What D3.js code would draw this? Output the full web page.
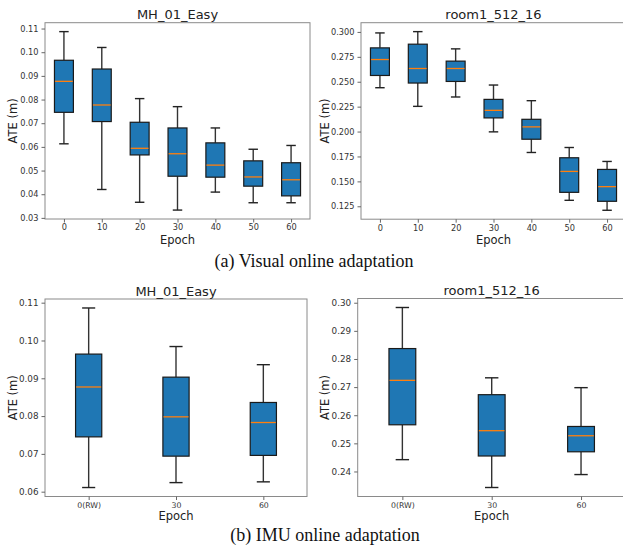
<!DOCTYPE html>
<meta charset="utf-8">
<style>
body { margin: 0; background: #fff; }
svg { display: block; }
.tick text { font-family: "DejaVu Sans", sans-serif; fill: #333; }
.tick line { stroke: #666; }
.title { font-family: "DejaVu Sans", sans-serif; font-size: 13px; fill: #222; }
.label { font-family: "DejaVu Sans", sans-serif; font-size: 11.5px; fill: #222; }
.caption { font-family: "Liberation Serif", "Times New Roman", serif; font-size: 18px; fill: #111; }
</style>
<body>
<script src="https://d3js.org/d3.v7.min.js"></script>
<script>
var width = 623,
    height = 548;

// epochs on x
let visualEpochs = ["0", "10", "20", "30", "40", "50", "60"]
let imuEpochs = ["0(RW)", "30", "60"]

// [low whisker, q1, median, q3, high whisker]
let mhVisual = [
  [0.0613, 0.0746, 0.0877, 0.0966, 0.1087],
  [0.0420, 0.0707, 0.0777, 0.0929, 0.1020],
  [0.0366, 0.0566, 0.0594, 0.0704, 0.0804],
  [0.0333, 0.0476, 0.0571, 0.0680, 0.0770],
  [0.0409, 0.0472, 0.0523, 0.0617, 0.0680],
  [0.0364, 0.0434, 0.0473, 0.0541, 0.0590],
  [0.0364, 0.0393, 0.0461, 0.0533, 0.0606]
]
let roomVisual = [
  [0.2440, 0.2563, 0.2723, 0.2840, 0.2990],
  [0.2253, 0.2487, 0.2633, 0.2877, 0.3003],
  [0.2347, 0.2503, 0.2633, 0.2707, 0.2830],
  [0.1997, 0.2137, 0.2213, 0.2323, 0.2467],
  [0.1790, 0.1923, 0.2047, 0.2123, 0.2310],
  [0.1310, 0.1390, 0.1600, 0.1737, 0.1840],
  [0.1210, 0.1300, 0.1447, 0.1620, 0.1700]
]
let mhImu = [
  [0.0611, 0.0745, 0.0877, 0.0964, 0.1086],
  [0.0624, 0.0694, 0.0798, 0.0903, 0.0984],
  [0.0626, 0.0696, 0.0783, 0.0836, 0.0936]
]
let roomImu = [
  [0.2442, 0.2566, 0.2724, 0.2837, 0.2983],
  [0.2343, 0.2455, 0.2545, 0.2673, 0.2733],
  [0.2389, 0.2470, 0.2527, 0.2560, 0.2698]
]

let mhVisualTicks = [0.03, 0.04, 0.05, 0.06, 0.07, 0.08, 0.09, 0.10, 0.11]
let roomVisualTicks = [0.125, 0.150, 0.175, 0.200, 0.225, 0.250, 0.275, 0.300]
let mhImuTicks = [0.06, 0.07, 0.08, 0.09, 0.10, 0.11]
let roomImuTicks = [0.24, 0.25, 0.26, 0.27, 0.28, 0.29, 0.30]

let titles = ["MH_01_Easy", "room1_512_16", "MH_01_Easy", "room1_512_16"]
let captions = ["(a) Visual online adaptation", "(b) IMU online adaptation"]

var svg = d3.select("body").append("svg")
    .attr("width", width)
    .attr("height", height);

var panels = [
  { data: mhVisual, cats: visualEpochs, ticks: mhVisualTicks, fmt: ".2f", title: titles[0],
    x: 45, y: 22.7, w: 265, h: 196.3, ytick: 8.2, xtick: 8.2, ylabX: 12.7, xlab: 25 },
  { data: roomVisual, cats: visualEpochs, ticks: roomVisualTicks, fmt: ".3f", title: titles[1],
    x: 361, y: 22.7, w: 265, h: 196.5, ytick: 8.2, xtick: 8.2, ylabX: 325, xlab: 25 },
  { data: mhImu, cats: imuEpochs, ticks: mhImuTicks, fmt: ".2f", title: titles[2],
    x: 45, y: 299, w: 262, h: 197.5, ytick: 8.8, xtick: 7.8, ylabX: 13.3, xlab: 23.5 },
  { data: roomImu, cats: imuEpochs, ticks: roomImuTicks, fmt: ".2f", title: titles[3],
    x: 357.7, y: 298.5, w: 268, h: 198, ytick: 8.8, xtick: 7.8, ylabX: 325, xlab: 23.5 }
]

panels.forEach(function(p) {
  var n = p.cats.length
  var lo = d3.min(p.data, d => d[0]),
      hi = d3.max(p.data, d => d[4]),
      pad = (hi - lo) * 0.05

  var x = d3.scaleLinear().domain([0.5, n + 0.5]).range([p.x, p.x + p.w])
  var y = d3.scaleLinear().domain([lo - pad, hi + pad]).range([p.y + p.h, p.y])

  // matplotlib default box width rule
  var bw = Math.min(0.5, Math.max(0.15, 0.15 * (n - 1)))

  var g = svg.append("g")

  // frame
  g.append("rect")
      .attr("x", p.x).attr("y", p.y)
      .attr("width", p.w).attr("height", p.h)
      .attr("fill", "none")
      .attr("stroke", "#8a8a8a")
      .attr("stroke-width", 1);

  var xAxis = g.append("g")
      .attr("transform", "translate(0," + (p.y + p.h) + ")")
      .call(d3.axisBottom(x).tickValues(d3.range(1, n + 1))
        .tickFormat((d, i) => p.cats[i]).tickSize(3.5).tickPadding(2))
  xAxis.selectAll("text").style("font-size", p.xtick + "px")

  var yAxis = g.append("g")
      .attr("transform", "translate(" + p.x + ",0)")
      .call(d3.axisLeft(y).tickValues(p.ticks).tickFormat(d3.format(p.fmt)).tickSize(3.5).tickPadding(3))
  yAxis.selectAll("text").style("font-size", p.ytick + "px")
  g.selectAll(".domain").remove()

  var boxes = g.selectAll(".box")
      .data(p.data)
    .enter().append("g")
      .attr("class", "box")

  // whiskers
  boxes.append("line")
      .attr("x1", (d, i) => x(i + 1)).attr("x2", (d, i) => x(i + 1))
      .attr("y1", d => y(d[0])).attr("y2", d => y(d[1]))
      .attr("stroke", "#333").attr("stroke-width", 1.4)
  boxes.append("line")
      .attr("x1", (d, i) => x(i + 1)).attr("x2", (d, i) => x(i + 1))
      .attr("y1", d => y(d[3])).attr("y2", d => y(d[4]))
      .attr("stroke", "#333").attr("stroke-width", 1.4)
  // caps
  ;[0, 4].forEach(function(k) {
    boxes.append("line")
        .attr("x1", (d, i) => x(i + 1 - bw / 4)).attr("x2", (d, i) => x(i + 1 + bw / 4))
        .attr("y1", d => y(d[k])).attr("y2", d => y(d[k]))
        .attr("stroke", "#222").attr("stroke-width", 1.4)
  })

  boxes.append("rect")
      .attr("x", (d, i) => x(i + 1 - bw / 2))
      .attr("width", (d, i) => x(i + 1 + bw / 2) - x(i + 1 - bw / 2))
      .attr("y", d => y(d[3]))
      .attr("height", d => y(d[1]) - y(d[3]))
      .attr("fill", "#1f77b4")
      .attr("stroke", "#1a1a1a")
      .attr("stroke-width", 1.2)

  boxes.append("line")
      .attr("x1", (d, i) => x(i + 1 - bw / 2) + 0.6).attr("x2", (d, i) => x(i + 1 + bw / 2) - 0.6)
      .attr("y1", d => y(d[2])).attr("y2", d => y(d[2]))
      .attr("stroke", "#ff7f0e").attr("stroke-width", 1.3)

  g.append("text")
      .attr("class", "title")
      .attr("x", p.x + p.w / 2)
      .attr("y", p.y - 3.5)
      .attr("text-anchor", "middle")
      .text(p.title)

  g.append("text")
      .attr("class", "label")
      .attr("transform", "translate(" + (p.ylabX + 4) + "," + (p.y + p.h / 2) + ") rotate(-90)")
      .attr("text-anchor", "middle")
      .text("ATE (m)")

  g.append("text")
      .attr("class", "label")
      .attr("x", p.x + p.w / 2)
      .attr("y", p.y + p.h + p.xlab)
      .attr("text-anchor", "middle")
      .text("Epoch")
})

svg.append("text")
    .attr("class", "caption")
    .attr("x", 314).attr("y", 266.5)
    .attr("text-anchor", "middle")
    .text(captions[0])

svg.append("text")
    .attr("class", "caption")
    .attr("x", 325).attr("y", 541)
    .attr("text-anchor", "middle")
    .text(captions[1])
</script>
</body>
